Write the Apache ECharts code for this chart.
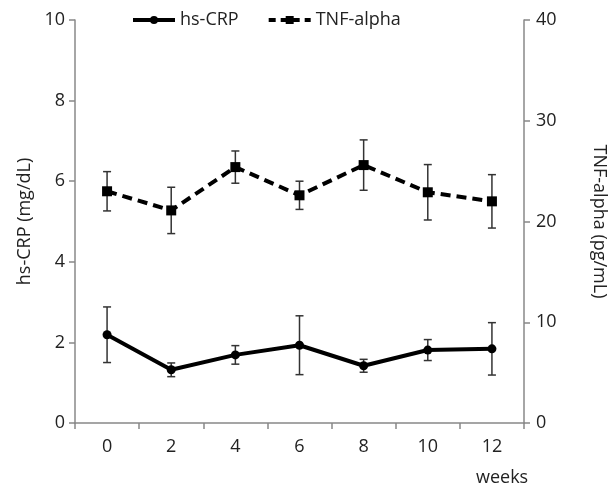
<!DOCTYPE html>
<html>
<head>
<meta charset="utf-8">
<script src="https://cdn.jsdelivr.net/npm/echarts@6/dist/echarts.min.js"></script>
<style>
  html, body { margin: 0; padding: 0; background: #fff; }
  #main { width: 616px; height: 486px; }
</style>
</head>
<body>
<div id="main"></div>
<script>
// weeks on the x axis
const weeks = ['0', '2', '4', '6', '8', '10', '12']

// hs-CRP (mg/dL), mean and error
const crpMean = [2.19, 1.32, 1.69, 1.93, 1.42, 1.81, 1.84]
const crpErr = [0.69, 0.17, 0.23, 0.73, 0.16, 0.26, 0.65]

// TNF-alpha (pg/mL), mean and error
const tnfMean = [23.0, 21.1, 25.4, 22.6, 25.6, 22.9, 22.0]
const tnfErr = [1.95, 2.3, 1.6, 1.4, 2.5, 2.75, 2.65]

const font = 'Open Sans, Liberation Sans, sans-serif'
const axisGray = '#888'

// error bar data: [index, low, high]
function errData (mean, err) {
  return mean.map((m, i) => [i, m - err[i], m + err[i]])
}

function renderErr (params, api) {
  const lo = api.coord([api.value(0), api.value(1)])
  const hi = api.coord([api.value(0), api.value(2)])
  const cap = 4
  const style = { stroke: '#333', lineWidth: 1.5 }
  return {
    type: 'group',
    children: [
      { type: 'line', shape: { x1: lo[0], y1: lo[1], x2: hi[0], y2: hi[1] }, style },
      { type: 'line', shape: { x1: lo[0] - cap, y1: lo[1], x2: lo[0] + cap, y2: lo[1] }, style },
      { type: 'line', shape: { x1: hi[0] - cap, y1: hi[1], x2: hi[0] + cap, y2: hi[1] }, style }
    ]
  }
}

const chart = echarts.init(document.getElementById('main'))

const option = {
  animation: false,
  textStyle: { fontFamily: font },
  grid: { left: 75, right: 78, top: 20, bottom: 63 },
  legend: {
    top: 6,
    left: 126,
    itemGap: 28,
    itemWidth: 42,
    itemHeight: 10,
    textStyle: { fontSize: 18, color: '#222', fontFamily: font },
    data: [
      { name: 'hs-CRP', lineStyle: { width: 4 } },
      { name: 'TNF-alpha', lineStyle: { width: 4, type: [7, 5] } }
    ]
  },
  xAxis: {
    type: 'category',
    data: weeks,
    boundaryGap: true,
    axisLine: { lineStyle: { color: axisGray, width: 1.5 } },
    axisTick: { show: true, length: 6, lineStyle: { color: axisGray, width: 1.5 } },
    axisLabel: { fontSize: 18, color: '#222', margin: 15 }
  },
  yAxis: [
    {
      type: 'value',
      min: 0,
      max: 10,
      interval: 2,
      name: 'hs-CRP (mg/dL)',
      nameLocation: 'middle',
      nameGap: 37,
      nameTextStyle: { fontSize: 18, color: '#222' },
      splitLine: { show: false },
      axisLine: { show: true, lineStyle: { color: axisGray, width: 1.5 } },
      axisTick: { show: true, length: 6, lineStyle: { color: axisGray, width: 1.5 } },
      axisLabel: { fontSize: 18, color: '#222', margin: 10 }
    },
    {
      type: 'value',
      min: 0,
      max: 40,
      interval: 10,
      position: 'right',
      name: 'TNF-alpha (pg/mL)',
      nameLocation: 'middle',
      nameRotate: -90,
      nameGap: 66,
      nameTextStyle: { fontSize: 18, color: '#222' },
      splitLine: { show: false },
      axisLine: { show: true, lineStyle: { color: axisGray, width: 1.5 } },
      axisTick: { show: true, length: 6, lineStyle: { color: axisGray, width: 1.5 } },
      axisLabel: { fontSize: 18, color: '#222', margin: 12 }
    }
  ],
  graphic: [
    {
      type: 'text',
      left: 476,
      top: 469,
      style: { text: 'weeks', fontSize: 18, fill: '#222', fontFamily: font }
    }
  ],
  series: [
    {
      name: 'hs-CRP',
      type: 'line',
      yAxisIndex: 0,
      data: crpMean,
      symbol: 'circle',
      symbolSize: 9,
      itemStyle: { color: '#000' },
      lineStyle: { color: '#000', width: 4 },
      z: 3
    },
    {
      name: 'TNF-alpha',
      type: 'line',
      yAxisIndex: 1,
      data: tnfMean,
      symbol: 'rect',
      symbolSize: 10,
      itemStyle: { color: '#000' },
      lineStyle: { color: '#000', width: 4, type: [10, 6] },
      z: 3
    },
    {
      type: 'custom',
      yAxisIndex: 0,
      data: errData(crpMean, crpErr),
      renderItem: renderErr,
      encode: { x: 0, y: [1, 2] },
      z: 2
    },
    {
      type: 'custom',
      yAxisIndex: 1,
      data: errData(tnfMean, tnfErr),
      renderItem: renderErr,
      encode: { x: 0, y: [1, 2] },
      z: 2
    }
  ]
}

chart.setOption(option)
</script>
</body>
</html>
